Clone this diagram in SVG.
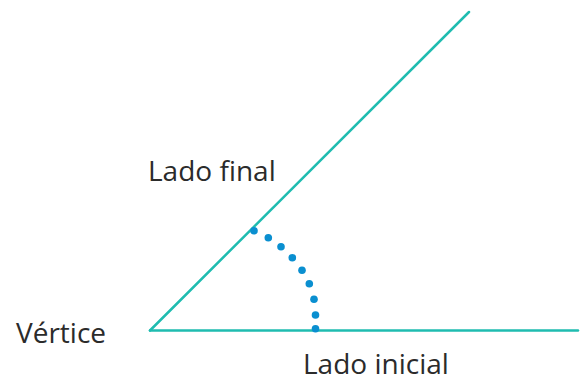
<svg xmlns="http://www.w3.org/2000/svg" width="580" height="381" viewBox="0 0 580 381">
<style>
.side{stroke:#1fbcb0;stroke-width:2.5;fill:none;stroke-linecap:round}
.dot{fill:#0a8fd0}
.lbl{font-family:"Open Sans","Noto Sans",sans-serif;font-size:28px;fill:#2b2b2b}
</style>
<rect width="580" height="381" fill="#ffffff"/>
<g id="connectors">
<line id="lado-final-line" class="side" x1="150" y1="330.5" x2="469" y2="12"/>
<line id="lado-inicial-line" class="side" x1="150" y1="330.5" x2="578" y2="330.5"/>
</g>
<g id="angle-arc">
<circle class="dot" cx="254" cy="230.7" r="3.8"/>
<circle class="dot" cx="268.3" cy="237.7" r="3.8"/>
<circle class="dot" cx="281" cy="246.7" r="3.8"/>
<circle class="dot" cx="292.3" cy="257.7" r="3.8"/>
<circle class="dot" cx="302" cy="270.3" r="3.8"/>
<circle class="dot" cx="309.3" cy="283.7" r="3.8"/>
<circle class="dot" cx="314" cy="299.3" r="3.8"/>
<circle class="dot" cx="315.5" cy="315" r="3.8"/>
<circle class="dot" cx="315.5" cy="328.7" r="3.8"/>
</g>
<g id="vertice"><text class="lbl" x="16" y="343">Vértice</text></g>
<g id="lado-final"><text class="lbl" x="148" y="181">Lado final</text></g>
<g id="lado-inicial"><text class="lbl" x="303" y="374">Lado inicial</text></g>
</svg>
